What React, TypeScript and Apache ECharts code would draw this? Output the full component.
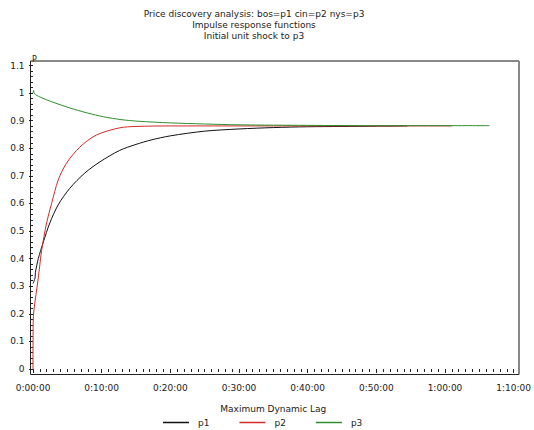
import React, { useEffect, useRef } from "react";
import * as echarts from "echarts";

const titleLines = [
  "Price discovery analysis: bos=p1 cin=p2 nys=p3",
  "Impulse response functions",
  "Initial unit shock to p3",
];
const seriesNames = ["p1", "p2", "p3"];
const seriesColors = ["#111111", "#d42a2a", "#2f8f2f"];

// lag in minutes
const p1Lag = [0, 0.3, 0.35, 0.77, 1.5, 2.46, 3.67, 5.36, 7.54, 9.7, 12.6, 15, 17.2, 20, 25, 30, 35, 40, 45, 50, 54.5];
const p1Values = [0.31, 0.33, 0.35, 0.4, 0.46, 0.53, 0.595, 0.655, 0.71, 0.75, 0.792, 0.814, 0.83, 0.845, 0.862, 0.87, 0.875, 0.878, 0.879, 0.88, 0.881];

const p2Lag = [0, 0.03, 0.12, 0.77, 1.26, 1.99, 2.71, 3.67, 4.88, 6.81, 9.23, 12.6, 15, 20, 30, 40, 50, 61];
const p2Values = [0, 0.17, 0.21, 0.33, 0.43, 0.53, 0.6, 0.685, 0.746, 0.804, 0.848, 0.874, 0.879, 0.881, 0.881, 0.881, 0.881, 0.881];

const p3Lag = [0, 0.1, 0.2, 1, 2.9, 5.4, 7.9, 10.3, 12.8, 15.3, 20, 25, 30, 40, 50, 60, 66.5];
const p3Values = [1.0, 1.01, 0.998, 0.986, 0.967, 0.946, 0.928, 0.914, 0.904, 0.898, 0.892, 0.888, 0.885, 0.883, 0.882, 0.882, 0.882];

const xMin = 0;
const xMax = 70;
const xInterval = 10;
const yMin = 0;
const yMax = 1.1;
const yInterval = 0.1;

const lags = [p1Lag, p2Lag, p3Lag];
const values = [p1Values, p2Values, p3Values];

function fmtLag(m: number): string {
  const total = Math.round(m * 60);
  const h = Math.floor(total / 3600);
  const mm = Math.floor((total % 3600) / 60);
  const ss = total % 60;
  return `${h}:${String(mm).padStart(2, "0")}:${String(ss).padStart(2, "0")}`;
}

const FONT = "DejaVu Sans";

export default function App() {
  const ref = useRef<HTMLDivElement>(null);
  useEffect(() => {
    if (!ref.current) return;
    const chart = echarts.init(ref.current, null, { renderer: "svg" });
    const series = seriesNames.map((name, i) => ({
      name,
      type: "line",
      data: lags[i].map((t, j) => [t, values[i][j]]),
      showSymbol: false,
      symbol: "none",
      smooth: 0.3,
      lineStyle: { color: seriesColors[i], width: 1 },
      itemStyle: { color: seriesColors[i] },
    }));
    chart.setOption({
      animation: false,
      backgroundColor: "#ffffff",
      textStyle: { fontFamily: FONT },
      grid: { left: 33, right: 18, top: 65.5, bottom: 61, containLabel: false },
      graphic: [
        ...titleLines.map((t, i) => ({
          type: "text",
          x: 254,
          y: 9 + i * 11,
          style: {
            text: t,
            fill: "#222",
            font: `9px "${FONT}"`,
            textAlign: "center",
            textVerticalAlign: "top",
          },
        })),
        { type: "line", shape: { x1: 30.5, y1: 61, x2: 519, y2: 61 }, style: { stroke: "#888", lineWidth: 2 } },
        { type: "line", shape: { x1: 519, y1: 61, x2: 519, y2: 374.5 }, style: { stroke: "#888", lineWidth: 2 } },
        { type: "line", shape: { x1: 30.5, y1: 61, x2: 30.5, y2: 374.5 }, style: { stroke: "#222", lineWidth: 1 } },
        { type: "line", shape: { x1: 30.5, y1: 374.5, x2: 519, y2: 374.5 }, style: { stroke: "#222", lineWidth: 1 } },
      ],
      legend: {
        data: seriesNames,
        left: 158,
        top: 413,
        icon: "rect",
        itemWidth: 26,
        itemHeight: 1.5,
        itemGap: 30,
        textStyle: { fontSize: 9, color: "#222", fontFamily: FONT, padding: [0, 0, 0, 4] },
      },
      xAxis: {
        type: "value",
        min: xMin,
        max: xMax,
        interval: xInterval,
        offset: 5.5,
        name: "Maximum Dynamic Lag",
        nameLocation: "middle",
        nameGap: 30,
        nameTextStyle: { fontSize: 9, color: "#222", fontFamily: FONT },
        axisLine: { show: false },
        axisTick: { show: true, length: 4, lineStyle: { color: "#222" } },
        minorTick: { show: true, splitNumber: 10, length: 3, lineStyle: { color: "#222" } },
        splitLine: { show: false },
        axisLabel: {
          formatter: (v: number) => fmtLag(v),
          fontSize: 9,
          color: "#222",
          margin: 9,
          fontFamily: FONT,
        },
      },
      yAxis: {
        type: "value",
        min: yMin,
        max: yMax,
        interval: yInterval,
        offset: 2.5,
        name: "P",
        nameLocation: "end",
        nameGap: 2,
        nameTextStyle: { fontSize: 8, color: "#222", fontFamily: FONT, align: "left", padding: [0, 0, 0, -1] },
        axisLine: { show: false },
        axisTick: { show: true, length: 4, lineStyle: { color: "#222" } },
        minorTick: { show: true, splitNumber: 5, length: 2.5, lineStyle: { color: "#222" } },
        splitLine: { show: false },
        axisLabel: { fontSize: 9, color: "#222", margin: 6, fontFamily: FONT },
      },
      series,
    });
    return () => chart.dispose();
  }, []);
  return <div ref={ref} style={{ width: 534, height: 430, position: "absolute", left: 0, top: 0 }} />;
}
